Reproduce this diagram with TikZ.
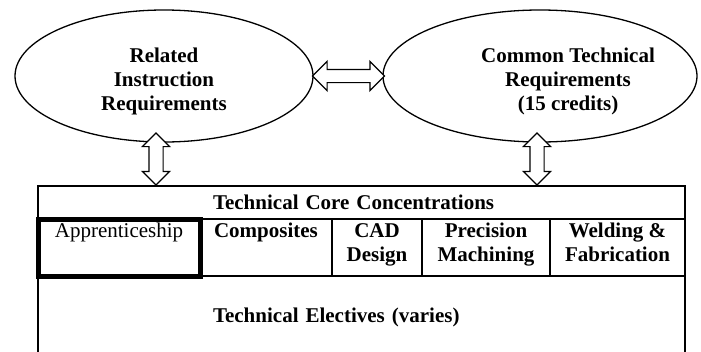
\documentclass[tikz,border=0pt]{standalone}
\usepackage{fontspec}
\setmainfont{Liberation Serif}
\usetikzlibrary{positioning,shapes.geometric,shapes.arrows}

% two lines in a cell, first baseline kept at the same height
\newcommand{\twolines}[2]{\rule{0pt}{17pt}#1\\#2\rule[-14pt]{0pt}{14pt}}

\begin{document}
\begin{tikzpicture}[x=1pt, y=-1pt,
    every node/.style={font=\fontsize{21}{24}\selectfont},
    oval/.style={ellipse, draw, line width=1.3pt, inner sep=0pt},
    ovaltext/.style={font=\fontsize{21}{24}\selectfont\bfseries, align=center},
    cell/.style={draw, line width=1.4pt, inner sep=0pt, outer sep=0pt, align=center,
      font=\fontsize{21}{24}\selectfont\bfseries},
    wide/.style={cell, minimum width=647, text width=297pt, inner xsep=175pt, align=left},
    dblarrow/.style={double arrow, draw, fill=white, line width=1.2pt, inner sep=6pt,
      double arrow head extend=8pt}]
  \clip (0,0) rectangle (701,351);

  % requirements
  \node (rel) [oval, minimum width=298, minimum height=132,
    label={[ovaltext, yshift=-5pt]center:{Related\\Instruction\\Requirements}}] at (164,76) {};
  \node (ctr) [oval, minimum width=314, minimum height=132,
    label={[ovaltext, xshift=28pt, yshift=-5pt]center:{Common Technical\\Requirements\\(15 credits)}}] at (540,76) {};

  % concentrations table
  \node (hdr) [wide, minimum height=33, anchor=north west] at (38,186) {Technical Core Concentrations};
  \node (app) [cell, line width=5pt, minimum width=162, minimum height=57, anchor=north west,
    font=\fontsize{21}{24}\selectfont] at (hdr.south west) {\twolines{Apprenticeship}{}};
  \node (comp) [cell, minimum width=132, minimum height=57, right=0pt of app] {\twolines{Composites}{}};
  \node (cad) [cell, minimum width=90, minimum height=57, right=0pt of comp] {\twolines{CAD}{Design}};
  \node (prec) [cell, minimum width=128, minimum height=57, right=0pt of cad] {\twolines{Precision}{Machining}};
  \node (weld) [cell, minimum width=135, minimum height=57, right=0pt of prec] {\twolines{Welding \&}{Fabrication}};
  \node (elec) [wide, minimum height=82, anchor=north west] at (app.south west) {Technical Electives (varies)};
  % redraw the thick frame on top
  \draw[line width=5pt] (app.north west) rectangle (app.south east);

  % links
  \node (rc) [dblarrow, minimum height=72, minimum width=28] at (348.5,76) {};
  \node (rh) [dblarrow, rotate=90, minimum height=52, minimum width=26, inner sep=6.5pt,
    double arrow head extend=6.5pt] at (156,159) {};
  \node (ch) [dblarrow, rotate=90, minimum height=52, minimum width=26, inner sep=6.5pt,
    double arrow head extend=6.5pt] at (537,159) {};
\end{tikzpicture}
\end{document}
